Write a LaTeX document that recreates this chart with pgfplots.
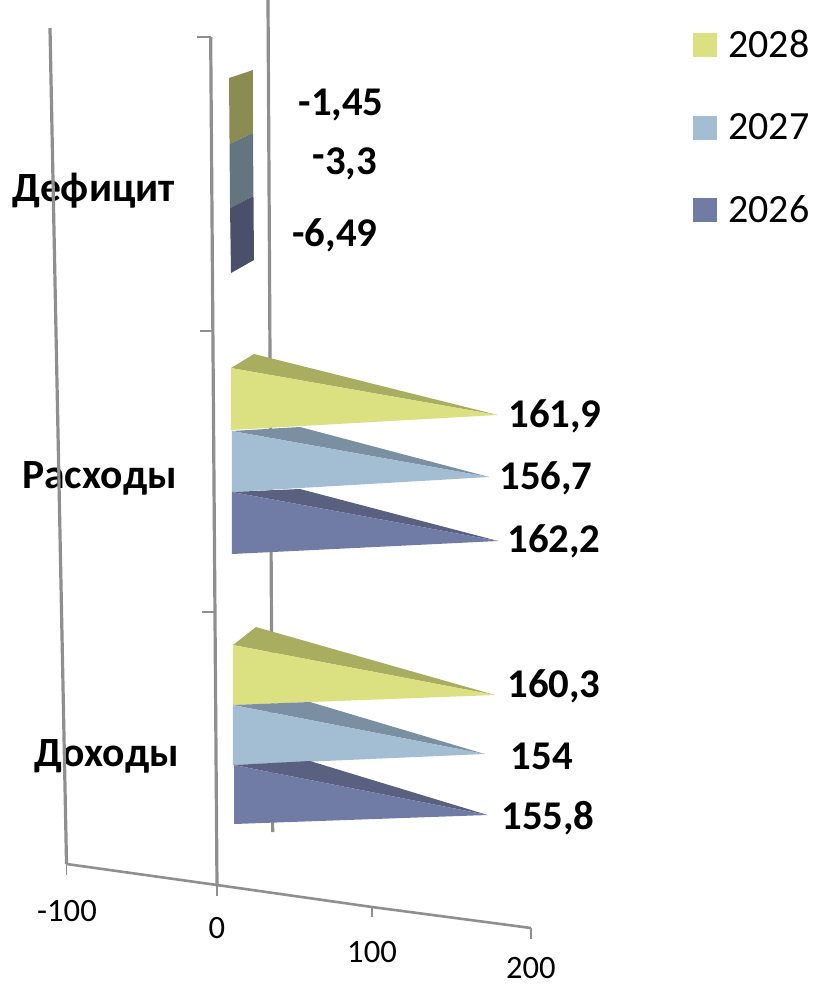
\documentclass[border=0pt]{standalone}
\usepackage{fontspec}
\setmainfont{Carlito}
\usepackage{pgfplots}
\pgfplotsset{compat=1.18}
\definecolor{y28}{HTML}{DBE180}
\definecolor{b27}{HTML}{A3BDD3}
\definecolor{n26}{HTML}{717CA6}
\definecolor{y28d}{HTML}{A8AD60}
\definecolor{b27d}{HTML}{7A8FA2}
\definecolor{n26d}{HTML}{5A6080}
\definecolor{y28m}{HTML}{8A8C52}
\definecolor{b27m}{HTML}{63757F}
\definecolor{n26m}{HTML}{4A5069}
\definecolor{wall}{HTML}{8F8F8F}
\pgfplotsset{
  face/.style={fill=#1,draw=none,forget plot,mark=none},
  wallline/.style={draw=wall,line width=#1,forget plot,mark=none},
  swatch/.style={legend image code/.code={\fill[#1] (0pt,-5.75pt) rectangle (11.5pt,5.75pt);}},
}
\begin{document}
\begin{tikzpicture}
\path[use as bounding box] (0,0) rectangle (408pt,492.5pt);
\begin{axis}[
  at={(0,0)},anchor=south west,
  scale only axis,width=408pt,height=492.5pt,
  xmin=-141.46,xmax=356.1,ymin=0,ymax=985,y dir=reverse,
  clip=false,
  axis line style={draw=none},
  xmajorticks=false,
  ytick={191,478,756},
  yticklabels={Дефицит\kern2pt,Расходы\kern1pt,Доходы},
  major tick length=0pt,
  yticklabel style={anchor=east,xshift=93pt,font=\fontsize{20.8}{24}\selectfont\bfseries},
  legend style={at={(axis description cs:0.8493,0.974)},anchor=north west,draw=none,fill=none,
    font=\fontsize{20}{24}\selectfont,row sep=22.5pt,inner sep=0pt,
    /tikz/every even column/.append style={column sep=0pt}},
  legend cell align=left,
]
% walls and floor
\addplot[wallline=1.6pt] coordinates {(-110.98,28) (-100.9,864)};
\addplot[wallline=1.6pt] coordinates {(-13,37) (-9.15,885)};
\addplot[wallline=1.6pt] coordinates {(21.95,0) (24.8,832)};
\addplot[wallline=1.3pt] coordinates {(-21.34,37) (-13,37)};
\addplot[wallline=1.3pt] coordinates {(-19.51,331) (-11.5,331)};
\addplot[wallline=1.3pt] coordinates {(-18.29,612) (-10.9,612)};
\addplot[wallline=1.3pt] coordinates {(-100.9,864) (-9.15,885) (85.37,907) (182.3,928)};
\addplot[wallline=0.7pt] coordinates {(-100.9,864) (-100.9,875)};
\addplot[wallline=0.7pt] coordinates {(-9.15,885) (-9.15,896)};
\addplot[wallline=0.7pt] coordinates {(85.37,907) (85.37,917)};
\addplot[wallline=0.7pt] coordinates {(182.3,928) (182.3,939)};
% Дефицит
\addplot[face=y28m] coordinates {(-1.8,78) (12.8,70) (12.8,133) (-1.5,144)} --cycle;
\addplot[face=b27m] coordinates {(-1.5,144) (12.8,133) (13.1,196) (-1.2,208)} --cycle;
\addplot[face=n26m] coordinates {(-1.2,208) (13.1,196) (13.4,260) (-0.6,273)} --cycle;
% Расходы
\addplot[face=y28d] coordinates {(-0.61,368) (13.41,354) (161.9,415)} --cycle;
\addplot[face=y28] coordinates {(-0.61,368) (161.9,415) (-0.61,430)} --cycle;
\addplot[face=b27d] coordinates {(0,431) (41.46,427) (156.7,477)} --cycle;
\addplot[face=b27] coordinates {(0,431) (156.7,477) (0,492)} --cycle;
\addplot[face=n26d] coordinates {(0,492) (41.46,489) (162.2,541)} --cycle;
\addplot[face=n26] coordinates {(0,492) (162.2,541) (0,554)} --cycle;
% Доходы
\addplot[face=y28d] coordinates {(0.61,645) (14.63,627) (160.3,695)} --cycle;
\addplot[face=y28] coordinates {(0.61,645) (160.3,695) (0.61,705)} --cycle;
\addplot[face=b27d] coordinates {(0.61,705) (47.56,702) (154,754)} --cycle;
\addplot[face=b27] coordinates {(0.61,705) (154,754) (0.61,765)} --cycle;
\addplot[face=n26d] coordinates {(1.22,765) (47.56,761) (155.8,815)} --cycle;
\addplot[face=n26] coordinates {(1.22,765) (155.8,815) (1.22,824)} --cycle;
% legend
\addlegendimage{swatch=y28}\addlegendentry{\hspace{3.5pt}2028}
\addlegendimage{swatch=b27}\addlegendentry{\hspace{3.5pt}2027}
\addlegendimage{swatch=n26}\addlegendentry{\hspace{3.5pt}2026}
% value labels
\begin{scope}[every node/.style={font=\fontsize{20.4}{24}\selectfont\bfseries,anchor=center,inner sep=0pt}]
\node at (axis cs:66.5,105) {-1,45};
\node at (axis cs:68.9,164) {\raisebox{3pt}{-}3,3};
\node at (axis cs:62.8,235) {-6,49};
\node at (axis cs:196.95,416) {161,9};
\node at (axis cs:191.46,478) {156,7};
\node at (axis cs:196.34,541) {162,2};
\node at (axis cs:196.34,686) {160,3};
\node at (axis cs:189.02,756) {154};
\node at (axis cs:192.68,818) {155,8};
\end{scope}
% value axis labels
\begin{scope}[every node/.style={font=\fontsize{16.3}{19}\selectfont,anchor=center,inner sep=0pt}]
\node at (axis cs:-100.6,911) {-100};
\node at (axis cs:-9.15,928) {0};
\node at (axis cs:85.37,952) {100};
\node at (axis cs:182.3,968) {200};
\end{scope}
\end{axis}
\end{tikzpicture}
\end{document}
